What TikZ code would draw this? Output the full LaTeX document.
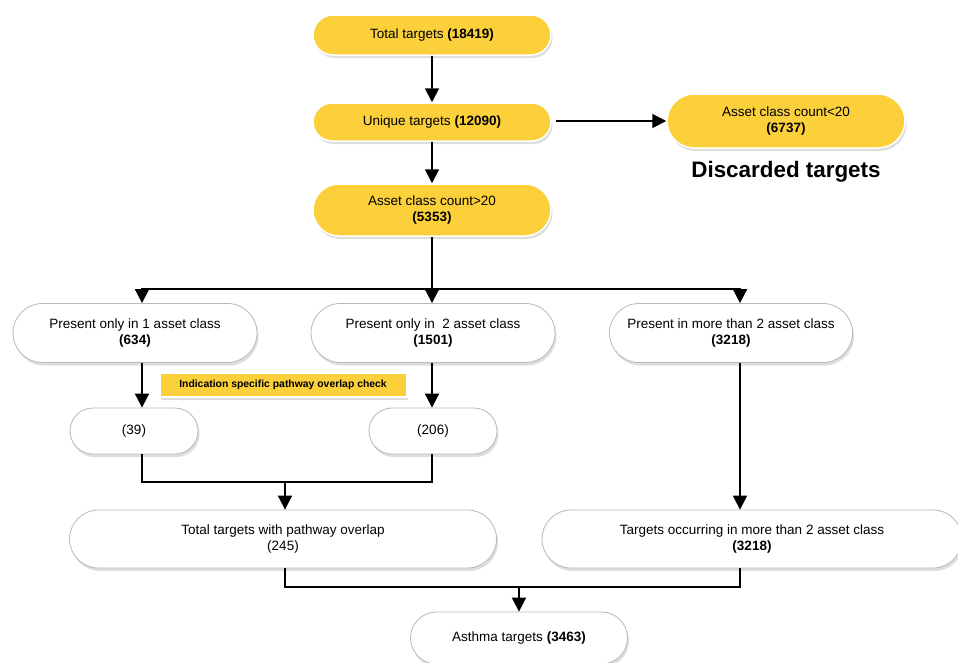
\documentclass[tikz,border=0pt]{standalone}
\usepackage{fontspec}
\setmainfont{Liberation Sans}
\usetikzlibrary{shapes.misc,arrows.meta,shadows}
\definecolor{ylw}{RGB}{251,208,58}
\definecolor{edgegray}{RGB}{185,185,185}
\begin{document}
\begin{tikzpicture}[x=1pt,y=-1pt,
  shade/.style={drop shadow={shadow xshift=1.5pt,shadow yshift=-3pt,opacity=0.13,fill=black}},
  ynode/.style={rounded rectangle, fill=ylw, draw=white, line width=1.5pt, align=center, inner sep=0pt,
    font=\fontsize{13.5}{16}\selectfont, shade},
  wnode/.style={rounded rectangle, fill=white, draw=edgegray, line width=0.8pt, align=center, inner sep=0pt,
    font=\fontsize{13.5}{16}\selectfont, shade},
  tagbox/.style={rectangle, fill=ylw, draw=white, line width=2pt, inner sep=0pt,
    font=\bfseries\fontsize{10.4}{12}\selectfont, shade},
  conn/.style={line width=1.8pt, black},
  arr/.style={conn, -{Triangle[width=14pt,length=14pt]}}
]
\clip (0,0) rectangle (958,662);
\fill[white] (0,0) rectangle (958,662);

% top yellow nodes
\node[ynode, minimum width=238pt, minimum height=40pt] (total) at (432,35) {Total targets \textbf{(18419)}};
\node[ynode, minimum width=238pt, minimum height=38pt] (uniq) at (432,122) {Unique targets \textbf{(12090)}};
\node[ynode, minimum width=238pt, minimum height=52pt] (ac20) at (432,210) {Asset class count>20\\\textbf{(5353)}};
\node[ynode, minimum width=238pt, minimum height=54pt] (disc) at (786,121) {Asset class count<20\\\textbf{(6737)}};
\node[font=\bfseries\fontsize{22.4}{26}\selectfont] (disclabel) at (786,172) {Discarded targets};

% second level
\node[wnode, minimum width=244pt, minimum height=59pt] (one) at (135,333) {Present only in 1 asset class\\\textbf{(634)}};
\node[wnode, minimum width=244pt, minimum height=59pt] (two) at (433,333) {Present only in\ \ 2 asset class\\\textbf{(1501)}};
\node[wnode, minimum width=243pt, minimum height=59pt] (more) at (731,333) {Present in more than 2 asset class\\\textbf{(3218)}};

\node[tagbox, minimum width=247pt, minimum height=24pt] (check) at (283,385) {Indication specific pathway overlap check};

\node[wnode, minimum width=128pt, minimum height=46pt] (n39) at (134,431) {(39)};
\node[wnode, minimum width=128pt, minimum height=46pt] (n206) at (433,431) {(206)};

\node[wnode, minimum width=427pt, minimum height=58pt] (path) at (283,539) {Total targets with pathway overlap\\(245)};
\node[wnode, minimum width=420pt, minimum height=58pt] (occ) at (752,539) {Targets occurring in more than 2 asset class\\\textbf{(3218)}};

\node[wnode, minimum width=217pt, minimum height=52pt] (asthma) at (519,638) {Asthma targets \textbf{(3463)}};

% connectors
\draw[arr] (total) -- (uniq);
\draw[arr] (uniq) -- (ac20);
\draw[arr, shorten <=4pt] (uniq.east |- disc.west) -- (disc.west);

\coordinate (bj) at (432,289);
\draw[conn] (ac20.south) -- (bj);
\draw[arr] (bj) -| ([xshift=7pt]one.north);
\draw[arr] (bj) -- (two.north -| bj);
\draw[arr] (bj) -| ([xshift=9pt]more.north);

\draw[arr] ([xshift=7pt]one.south) -- ([xshift=8pt]n39.north);
\draw[arr] (two.south -| bj) -- (n206.north -| bj);

\coordinate (mj) at (285,482);
\draw[conn] ([xshift=8pt]n39.south) |- (mj) -| (n206.south -| bj);
\draw[arr] (mj) -- (path.north -| mj);

\draw[arr] ([xshift=9pt]more.south) -- ([xshift=9pt]more.south |- occ.north);

\coordinate (bj2) at (519,587);
\draw[conn] ([xshift=2pt]path.south) |- (bj2);
\draw[conn] ([xshift=9pt]more.south |- occ.south) |- (bj2);
\draw[arr] (bj2) -- (asthma.north);
\end{tikzpicture}
\end{document}
